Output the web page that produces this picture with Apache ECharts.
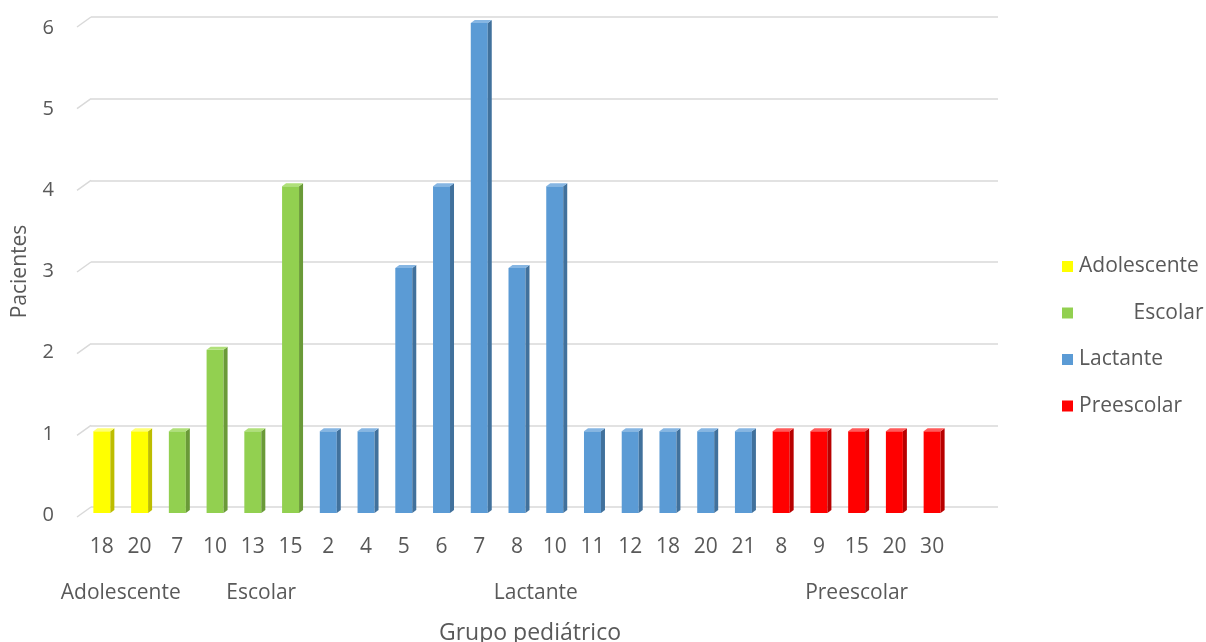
<!DOCTYPE html>
<html>
<head>
<meta charset="utf-8">
<script src="https://cdn.jsdelivr.net/npm/echarts@6/dist/echarts.min.js"></script>
<style>
  html, body { margin: 0; padding: 0; background: #fff; }
  #chart { width: 1206px; height: 642px; }
</style>
</head>
<body>
<div id="chart"></div>
<script>
// Patients by pediatric group and age
const groupNames = ['Adolescente', 'Escolar', 'Lactante', 'Preescolar'];

const adolescenteEdades = ['18', '20'];
const adolescentePacientes = [1, 1];

const escolarEdades = ['7', '10', '13', '15'];
const escolarPacientes = [1, 2, 1, 4];

const lactanteEdades = ['2', '4', '5', '6', '7', '8', '10', '11', '12', '18', '20', '21'];
const lactantePacientes = [1, 1, 3, 4, 6, 3, 4, 1, 1, 1, 1, 1];

const preescolarEdades = ['8', '9', '15', '20', '30'];
const preescolarPacientes = [1, 1, 1, 1, 1];

const yTicks = [0, 1, 2, 3, 4, 5, 6];

// face colours: front, side, top
const palette = {
  Adolescente: ['#FFFF00', '#BDBD00', '#FFFF73'],
  Escolar: ['#92D050', '#6A9A38', '#B0E07A'],
  Lactante: ['#5B9BD5', '#41719C', '#86B6E3'],
  Preescolar: ['#FF0000', '#B80000', '#FF5A5A']
};

const groupAges = [adolescenteEdades, escolarEdades, lactanteEdades, preescolarEdades];
const groupValues = [adolescentePacientes, escolarPacientes, lactantePacientes, preescolarPacientes];

// flatten into one category axis, remembering where each group starts/ends
const categories = [];
const seriesData = [];
const groupSpans = [];
groupAges.forEach(function (ages, g) {
  const start = categories.length;
  const rows = [];
  ages.forEach(function (age, i) {
    rows.push([categories.length, groupValues[g][i]]);
    categories.push(age);
  });
  seriesData.push(rows);
  groupSpans.push([start, categories.length - 1, g]);
});

// "Escolar" carries leading blanks in its label
function displayName(name) {
  return name === 'Escolar' ? '\u00a0'.repeat(10) + name : name;
}

const textColor = '#595959';
const fontFamily = '"Open Sans", Lato, sans-serif';

function barRenderer(colors) {
  return function (params, api) {
    const idx = api.value(0);
    const top = api.coord([idx, api.value(1)]);
    const base = api.coord([idx, 0]);
    const band = api.size([1, 0])[0];
    const w = band * 0.45;
    const x0 = top[0] - w / 2;
    const x1 = top[0] + w / 2;
    const dx = 4, dy = 3;
    return {
      type: 'group',
      children: [
        { type: 'rect', shape: { x: x0, y: top[1], width: w, height: base[1] - top[1] },
          style: { fill: colors[0] } },
        { type: 'polygon', shape: { points: [[x1, top[1]], [x1 + dx, top[1] - dy], [x1 + dx, base[1] - dy], [x1, base[1]]] },
          style: { fill: colors[1] } },
        { type: 'polygon', shape: { points: [[x0, top[1]], [x0 + dx, top[1] - dy], [x1 + dx, top[1] - dy], [x1, top[1]]] },
          style: { fill: colors[2] } }
      ]
    };
  };
}

const barSeries = groupNames.map(function (name, g) {
  return {
    name: name,
    type: 'custom',
    xAxisIndex: 0,
    yAxisIndex: 0,
    z: 5,
    itemStyle: { color: palette[name][0] },
    renderItem: barRenderer(palette[name]),
    encode: { x: 0, y: 1 },
    data: seriesData[g]
  };
});

const chart = echarts.init(document.getElementById('chart'));
chart.setOption({
  animation: false,
  backgroundColor: '#ffffff',
  textStyle: { fontFamily: fontFamily },
  grid: [
    // bars
    { left: 83, right: 255, top: 23, bottom: 129, outerBoundsMode: 'none' },
    // back wall with gridlines
    { left: 91, right: 208, top: 17, bottom: 135, outerBoundsMode: 'none' },
    // front plane for value labels and titles
    { left: 77, right: 223, top: 28, bottom: 127, outerBoundsMode: 'none' }
  ],
  xAxis: [
    {
      gridIndex: 0, type: 'category', data: categories,
      axisLine: { show: false }, axisTick: { show: false },
      axisLabel: { interval: 0, margin: 24, color: textColor, fontSize: 21, fontFamily: fontFamily }
    },
    { gridIndex: 1, type: 'value', min: 0, max: 1, show: false },
    {
      gridIndex: 2, type: 'value', min: 0, max: 1,
      axisLine: { show: false }, axisTick: { show: false }, axisLabel: { show: false }, splitLine: { show: false },
      name: 'Grupo pediátrico', nameLocation: 'middle', nameGap: 107,
      nameTextStyle: { color: textColor, fontSize: 23, fontFamily: fontFamily }
    }
  ],
  yAxis: [
    { gridIndex: 0, type: 'value', min: 0, max: 6, interval: 1, show: false },
    {
      gridIndex: 1, type: 'value', min: 0, max: 6, interval: 1,
      axisLine: { show: false }, axisTick: { show: false }, axisLabel: { show: false },
      splitLine: { show: true, lineStyle: { color: '#d9d9d9', width: 1.5 } }
    },
    {
      gridIndex: 2, type: 'value', min: 0, max: 6, interval: 1,
      axisLine: { show: false }, axisTick: { show: false }, splitLine: { show: false },
      axisLabel: { margin: 23, color: textColor, fontSize: 20, fontFamily: fontFamily },
      name: 'Pacientes', nameLocation: 'middle', nameGap: 46,
      nameTextStyle: { color: textColor, fontSize: 21, fontFamily: fontFamily }
    }
  ],
  legend: {
    data: groupNames,
    orient: 'vertical',
    left: 1057,
    top: 251,
    itemWidth: 11,
    itemHeight: 11,
    itemGap: 25.5,
    icon: 'rect',
    formatter: displayName,
    textStyle: { color: textColor, fontSize: 21, fontFamily: fontFamily, padding: [0, 0, 0, 1] }
  },
  series: [
    // side-wall gridline segments leading into the back wall
    {
      type: 'custom',
      xAxisIndex: 1,
      yAxisIndex: 1,
      silent: true,
      z: 1,
      data: yTicks.map(function (v) { return [0, v]; }),
      renderItem: function (params, api) {
        const p = api.coord([0, api.value(1)]);
        return {
          type: 'line',
          shape: { x1: p[0] - 14, y1: p[1] + 10, x2: p[0], y2: p[1] },
          style: { stroke: '#d9d9d9', lineWidth: 1.5 }
        };
      }
    },
    // group captions under the age labels
    {
      type: 'custom',
      xAxisIndex: 0,
      yAxisIndex: 0,
      silent: true,
      z: 6,
      data: groupSpans,
      renderItem: function (params, api) {
        const a = api.coord([api.value(0), 0]);
        const b = api.coord([api.value(1), 0]);
        return {
          type: 'text',
          style: {
            x: (a[0] + b[0]) / 2, y: a[1] + 80,
            text: displayName(groupNames[api.value(2)]),
            align: 'center', verticalAlign: 'middle',
            fill: textColor, fontSize: 21, fontFamily: fontFamily
          }
        };
      }
    }
  ].concat(barSeries)
});
</script>
</body>
</html>
